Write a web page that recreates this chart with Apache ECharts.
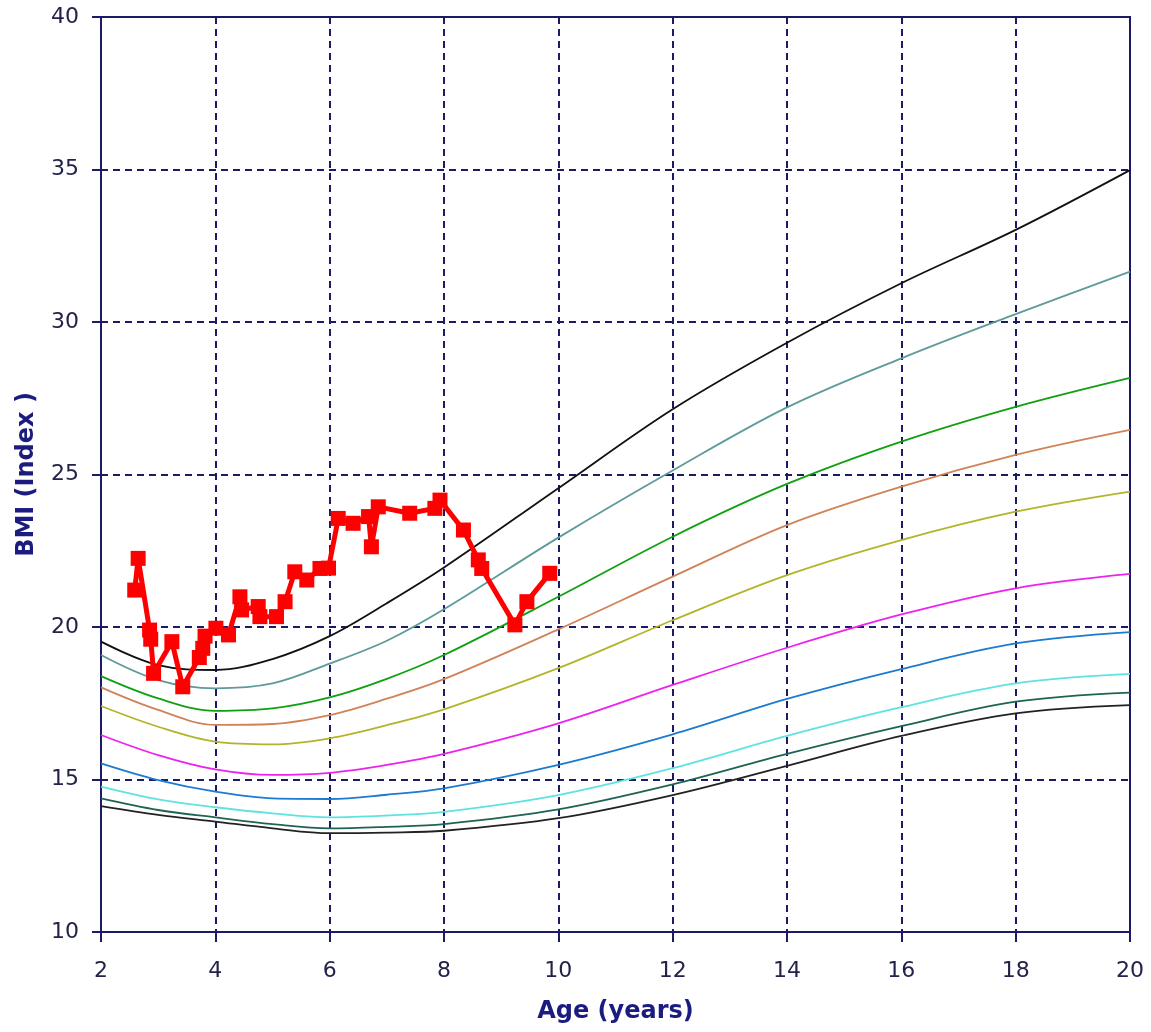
<!DOCTYPE html>
<html>
<head>
<meta charset="utf-8">
<script src="https://cdn.jsdelivr.net/npm/echarts@6/dist/echarts.min.js"></script>
<style>
html,body{margin:0;padding:0;background:#fff;}
#chart{width:1151px;height:1032px;}
</style>
</head>
<body>
<div id="chart"></div>
<script>
// Ages (years) at which the percentile curves were read
const ages = [2, 3, 4, 5, 6, 7, 8, 10, 12, 14, 16, 18, 20];

// Percentile curves, top to bottom
const p97 = [19.52, 18.75, 18.59, 18.95, 19.70, 20.78, 21.95, 24.55, 27.14, 29.32, 31.27, 33.02, 34.98];
const p95 = [19.08, 18.26, 17.99, 18.15, 18.80, 19.55, 20.58, 22.93, 25.13, 27.20, 28.81, 30.26, 31.65];
const p90 = [18.39, 17.66, 17.25, 17.33, 17.69, 18.30, 19.08, 20.99, 22.96, 24.69, 26.08, 27.22, 28.17];
const p85 = [18.02, 17.28, 16.79, 16.82, 17.11, 17.65, 18.29, 19.92, 21.65, 23.34, 24.60, 25.64, 26.46];
const p75 = [17.41, 16.73, 16.24, 16.15, 16.35, 16.78, 17.30, 18.65, 20.22, 21.70, 22.85, 23.78, 24.44];
const p50 = [16.46, 15.80, 15.33, 15.15, 15.22, 15.48, 15.84, 16.84, 18.10, 19.32, 20.41, 21.27, 21.74];
const p25 = [15.53, 14.98, 14.60, 14.38, 14.36, 14.50, 14.71, 15.48, 16.48, 17.64, 18.62, 19.46, 19.83];
const p10 = [14.77, 14.35, 14.09, 13.89, 13.76, 13.82, 13.94, 14.49, 15.37, 16.43, 17.37, 18.15, 18.46];
const p05 = [14.38, 14.00, 13.76, 13.54, 13.40, 13.45, 13.54, 14.02, 14.84, 15.84, 16.75, 17.55, 17.85];
const p03 = [14.13, 13.84, 13.62, 13.40, 13.24, 13.26, 13.32, 13.73, 14.49, 15.45, 16.43, 17.17, 17.44];

// Measured patient BMI
const patientAge = [2.59, 2.65, 2.85, 2.87, 2.92, 3.24, 3.43, 3.72, 3.78, 3.82, 4.01, 4.23, 4.43, 4.46, 4.75, 4.78, 5.07, 5.22, 5.39, 5.60, 5.83, 5.98, 6.15, 6.41, 6.68, 6.73, 6.85, 7.40, 7.84, 7.93, 8.34, 8.60, 8.66, 9.24, 9.45, 9.85];
const patientBMI = [21.21, 22.25, 19.90, 19.60, 18.48, 19.52, 18.04, 19.00, 19.30, 19.70, 19.96, 19.74, 20.99, 20.56, 20.67, 20.34, 20.34, 20.83, 21.81, 21.54, 21.92, 21.93, 23.56, 23.40, 23.62, 22.63, 23.94, 23.73, 23.89, 24.16, 23.18, 22.20, 21.92, 20.07, 20.83, 21.76];

// Tick values
const xTicks = [2, 4, 6, 8, 10, 12, 14, 16, 18, 20];
const yTicks = [10, 15, 20, 25, 30, 35, 40];

const curves = [
  {data: p97, color: '#111111'},
  {data: p95, color: '#5e9a9a'},
  {data: p90, color: '#10a010'},
  {data: p85, color: '#d08258'},
  {data: p75, color: '#b4b42a'},
  {data: p50, color: '#ee22ee'},
  {data: p25, color: '#1c7ad0'},
  {data: p10, color: '#5ee2e2'},
  {data: p05, color: '#1e6452'},
  {data: p03, color: '#222222'}
];

const navy = '#1a1a66';
const series = curves.map(c => ({
  type: 'line',
  data: ages.map((a, i) => [a, c.data[i]]),
  smooth: 0.35,
  symbol: 'none',
  lineStyle: {color: c.color, width: 1.8},
  silent: true,
  z: 2
}));
series.push({
  type: 'line',
  data: patientAge.map((a, i) => [a, patientBMI[i]]),
  symbol: 'rect',
  symbolSize: 15,
  itemStyle: {color: '#ff0000'},
  lineStyle: {color: '#ff0000', width: 5},
  z: 5
});

const chart = echarts.init(document.getElementById('chart'), null, {renderer: 'canvas'});
chart.setOption({
  animation: false,
  backgroundColor: '#ffffff',
  grid: {left: 101, right: 21, top: 17, bottom: 100, show: true, borderColor: navy, borderWidth: 2, backgroundColor: 'transparent'},
  xAxis: {
    type: 'value', min: xTicks[0], max: xTicks[xTicks.length - 1], interval: 2,
    name: 'Age (years)', nameLocation: 'middle', nameGap: 68,
    nameTextStyle: {color: '#1b1b80', fontFamily: 'DejaVu Sans', fontWeight: 'bold', fontSize: 24},
    axisLine: {show: true, lineStyle: {color: navy, width: 2}},
    axisTick: {show: true, length: 10, inside: false, lineStyle: {color: navy, width: 2}},
    axisLabel: {color: '#22224a', fontFamily: 'DejaVu Sans', fontSize: 22, margin: 28},
    splitLine: {show: true, lineStyle: {color: navy, width: 2, type: [7, 5]}}
  },
  yAxis: {
    type: 'value', min: yTicks[0], max: yTicks[yTicks.length - 1], interval: 5,
    name: 'BMI (Index )', nameLocation: 'middle', nameGap: 62,
    nameTextStyle: {color: '#1b1b80', fontFamily: 'DejaVu Sans', fontWeight: 'bold', fontSize: 24},
    axisLine: {show: true, lineStyle: {color: navy, width: 2}},
    axisTick: {show: true, length: 9, lineStyle: {color: navy, width: 2}},
    axisLabel: {color: '#22224a', fontFamily: 'DejaVu Sans', fontSize: 22, margin: 22},
    splitLine: {show: true, lineStyle: {color: navy, width: 2, type: [7, 5]}}
  },
  series: series
});
</script>
</body>
</html>
